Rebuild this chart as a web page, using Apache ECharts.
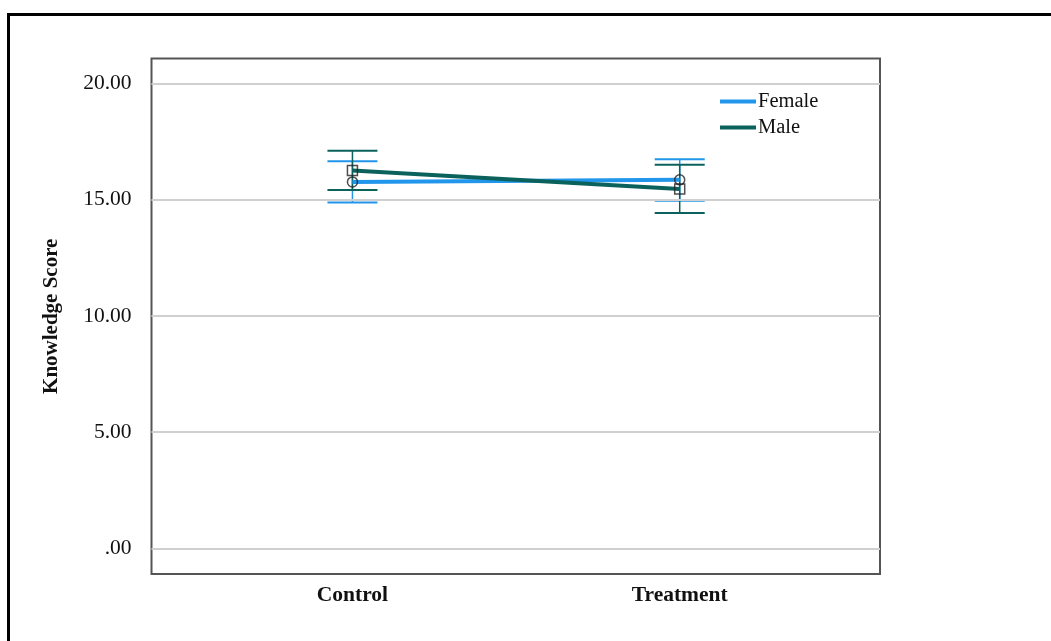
<!DOCTYPE html>
<html>
<head>
<meta charset="utf-8">
<script src="https://cdn.jsdelivr.net/npm/echarts@6/dist/echarts.min.js"></script>
<style>
  html, body { margin: 0; padding: 0; background: #fff; }
  #chart { width: 1051px; height: 641px; }
</style>
</head>
<body>
<div id="chart"></div>
<script>
// Group means and 95% CI bounds of knowledge score
const categories = ['Control', 'Treatment'];
const femaleMean = [15.77, 15.86];
const femaleLow  = [14.88, 14.96];
const femaleHigh = [16.66, 16.75];
const maleMean   = [16.26, 15.46];
const maleLow    = [15.42, 14.43];
const maleHigh   = [17.11, 16.51];
const yTicks = [0, 5, 10, 15, 20];

const BLUE = '#2196ea';
const TEAL = '#0b625c';
const FONT = 'Liberation Serif';

const chart = echarts.init(document.getElementById('chart'), null, { renderer: 'canvas' });

function toPoints(means) {
  return means.map((v, i) => [i, v]);
}
function toBars(low, high) {
  return low.map((v, i) => [i, v, high[i]]);
}

// Error bar: vertical stem with horizontal caps
function errorBar(color) {
  return function (params, api) {
    const x = api.value(0);
    const lo = api.coord([x, api.value(1)]);
    const hi = api.coord([x, api.value(2)]);
    const half = 25;
    return {
      type: 'group',
      children: [
        { type: 'line', shape: { x1: lo[0], y1: lo[1], x2: hi[0], y2: hi[1] },
          style: { stroke: color, lineWidth: 1.5 } },
        { type: 'line', shape: { x1: hi[0] - half, y1: hi[1], x2: hi[0] + half, y2: hi[1] },
          style: { stroke: color, lineWidth: 2 } },
        { type: 'line', shape: { x1: lo[0] - half, y1: lo[1], x2: lo[0] + half, y2: lo[1] },
          style: { stroke: color, lineWidth: 2 } }
      ]
    };
  };
}

const option = {
  animation: false,
  graphic: [{
    type: 'rect', left: 6, top: 12, z: 0,
    shape: { width: 1200, height: 800 },
    style: { fill: 'none', stroke: '#000', lineWidth: 3 }
  }],
  grid: {
    left: 151.5, right: 171, top: 58.5, bottom: 67,
    show: true, borderColor: '#555', borderWidth: 2, backgroundColor: 'transparent'
  },
  legend: {
    data: ['Female', 'Male'],
    orient: 'vertical',
    left: 715, top: 86,
    icon: 'rect', itemWidth: 36, itemHeight: 4, itemGap: 5,
    textStyle: { fontFamily: FONT, fontSize: 20.5, color: '#111', padding: [0, 0, 0, -3] }
  },
  xAxis: {
    type: 'value', min: -0.614, max: 1.612,
    axisLine: { show: false },
    axisTick: { show: false },
    splitLine: { show: false },
    axisLabel: {
      customValues: [0, 1],
      formatter: v => categories[Math.round(v)],
      margin: 10,
      fontFamily: FONT, fontSize: 21.5, fontWeight: 'bold', color: '#111'
    }
  },
  yAxis: {
    type: 'value', min: -1.1, max: 21.08,
    name: 'Knowledge Score', nameLocation: 'middle', nameRotate: 90, nameGap: 89,
    nameTextStyle: { fontFamily: FONT, fontSize: 21, fontWeight: 'bold', color: '#111' },
    axisLine: { show: false },
    splitLine: { show: false },
    axisTick: { show: true, customValues: yTicks, length: 14, lineStyle: { color: '#d0d0d0', width: 2 } },
    axisLabel: {
      customValues: yTicks,
      formatter: v => (v === 0 ? '.00' : v.toFixed(2)),
      margin: 20,
      fontFamily: FONT, fontSize: 21.5, color: '#111'
    }
  },
  series: [
    {
      // horizontal reference lines at the labelled scores
      type: 'line', data: [], z: 1, silent: true,
      markLine: {
        silent: true, symbol: ['none', 'none'],
        label: { show: false },
        lineStyle: { color: '#d0d0d0', width: 2, type: 'solid' },
        data: yTicks.map(v => ({ yAxis: v }))
      }
    },
    { type: 'custom', name: 'Female CI', z: 3, renderItem: errorBar(BLUE), data: toBars(femaleLow, femaleHigh) },
    { type: 'custom', name: 'Male CI', z: 3, renderItem: errorBar(TEAL), data: toBars(maleLow, maleHigh) },
    {
      type: 'line', name: 'Female', z: 4, data: toPoints(femaleMean),
      symbol: 'none', itemStyle: { color: BLUE }, lineStyle: { color: BLUE, width: 4 }
    },
    {
      type: 'line', name: 'Male', z: 5, data: toPoints(maleMean),
      symbol: 'none', itemStyle: { color: TEAL }, lineStyle: { color: TEAL, width: 4 }
    },
    {
      type: 'scatter', name: 'Female mean', z: 6, data: toPoints(femaleMean),
      symbol: 'circle', symbolSize: 10,
      itemStyle: { color: 'rgba(255,255,255,0)', borderColor: '#222', borderWidth: 1.5 }
    },
    {
      type: 'scatter', name: 'Male mean', z: 6, data: toPoints(maleMean),
      symbol: 'rect', symbolSize: 10,
      itemStyle: { color: 'rgba(255,255,255,0)', borderColor: '#222', borderWidth: 1.5 }
    }
  ]
};

chart.setOption(option);
</script>
</body>
</html>
